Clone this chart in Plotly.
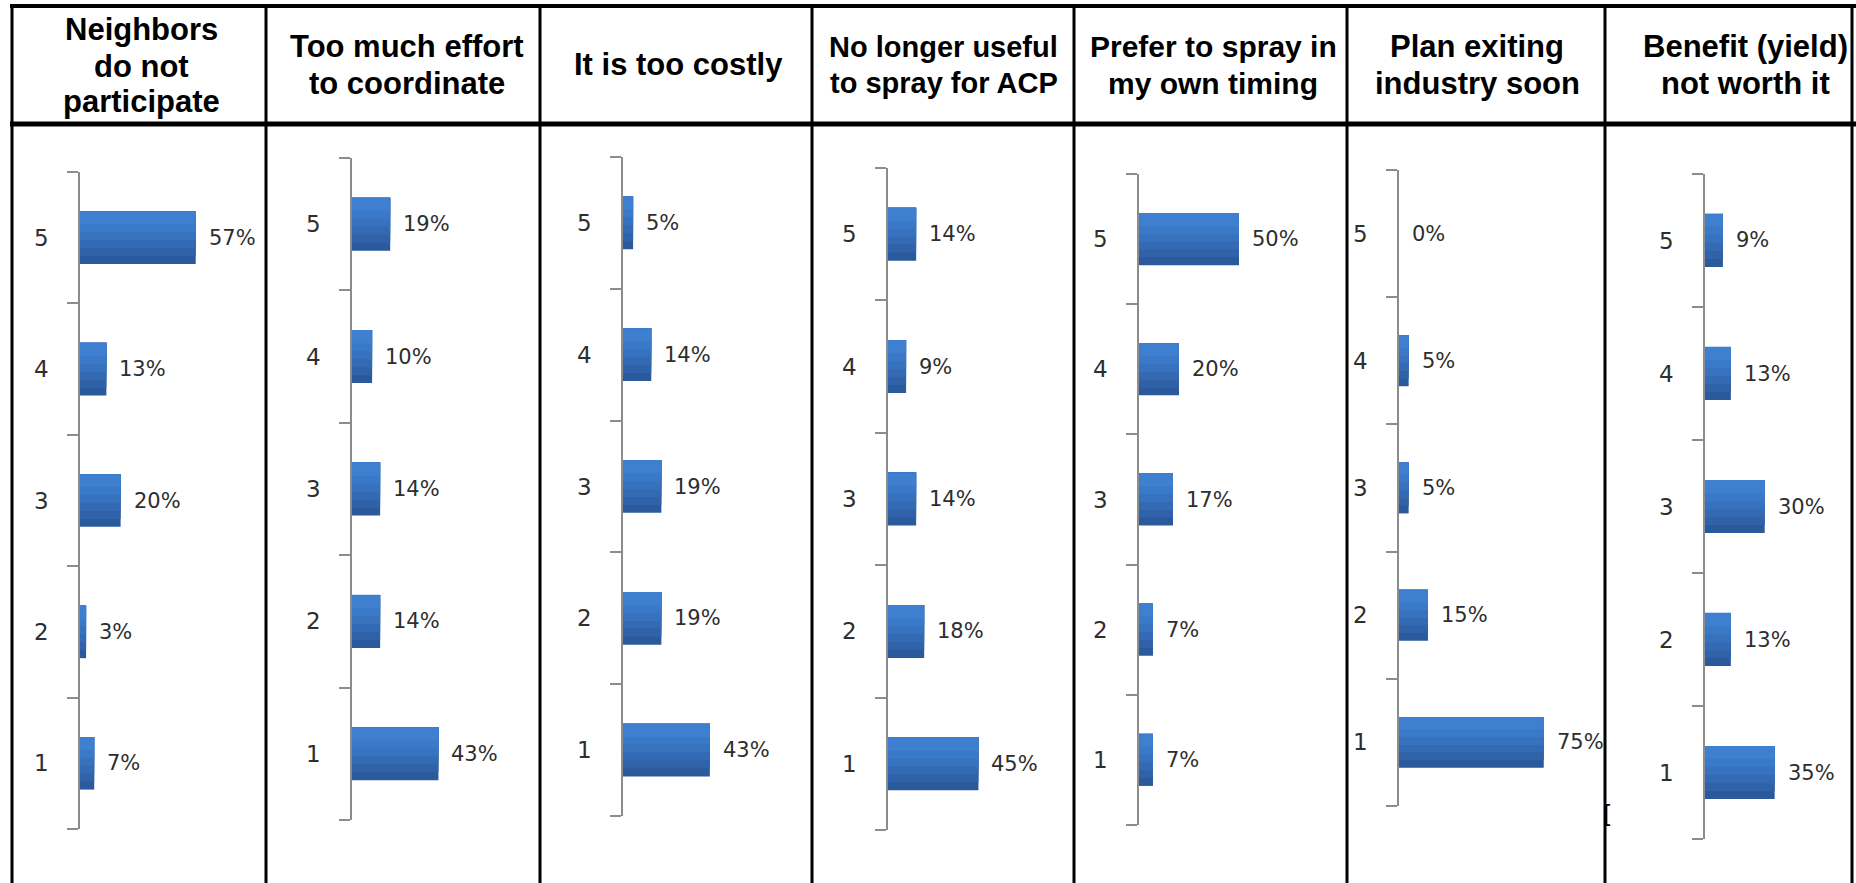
import plotly.graph_objects as go

W, H = 1856, 883

headers = [
    ["Neighbors", "do not", "participate"],
    ["Too much effort", "to coordinate"],
    ["It is too costly"],
    ["No longer useful", "to spray for ACP"],
    ["Prefer to spray in", "my own timing"],
    ["Plan exiting", "industry soon"],
    ["Benefit (yield)", "not worth it"],
]
ratings = ["1", "2", "3", "4", "5"]
# values for ratings 1..5
neighbors = [7, 3, 20, 13, 57]
effort = [43, 14, 14, 10, 19]
costly = [43, 19, 19, 14, 5]
no_longer_useful = [45, 18, 14, 9, 14]
own_timing = [7, 7, 17, 20, 50]
exiting = [75, 15, 5, 5, 0]
benefit = [35, 13, 30, 13, 9]
series = [neighbors, effort, costly, no_longer_useful, own_timing, exiting, benefit]

# layout geometry (pixels)
axis_x = [80, 352, 623, 888, 1139, 1399, 1705]
plot_top = [172, 158, 157, 168, 174, 170, 174]
plot_bot = [829, 820, 816, 830, 825, 806, 839]
px_per_pct = [2.03, 2.01, 2.02, 2.01, 2.0, 1.93, 1.99]
col_lines = [12, 266, 540, 812, 1074, 1347, 1605, 1852]
head_cx = [141, 407, 678, 944, 1213, 1477, 1745]
head_sizes = [31, 31, 31, 29, 30, 31, 31]

# vertical gradient of the bars: darkest (bottom) drawn first, full thickness
band_colors = ["#2B5A9C", "#2F62A8", "#336AB3", "#3672BE", "#3A79C7", "#3E80CF"]
band_bottoms = [-0.2, -0.14, -0.08, -0.02, 0.04, 0.10]
bar_top = 0.2

fig = go.Figure()
annotations = []
layout_axes = {}
for i, vals in enumerate(series):
    k = i + 1
    xa = "x" if k == 1 else f"x{k}"
    ya = "y" if k == 1 else f"y{k}"
    for col, off in zip(band_colors, band_bottoms):
        fig.add_trace(go.Bar(
            x=vals, y=ratings, orientation="h", xaxis=xa, yaxis=ya,
            width=bar_top - off, offset=off, marker=dict(color=col, line=dict(width=0)),
            showlegend=False, hoverinfo="skip"))
    wpx = min(165, W - 1 - axis_x[i])
    layout_axes[f"xaxis{'' if k == 1 else k}"] = dict(
        domain=[axis_x[i] / W, (axis_x[i] + wpx) / W],
        range=[0, wpx / px_per_pct[i]], visible=False, anchor=ya, fixedrange=True)
    layout_axes[f"yaxis{'' if k == 1 else k}"] = dict(
        domain=[1 - plot_bot[i] / H, 1 - plot_top[i] / H],
        anchor=xa, type="category", categoryorder="array", categoryarray=ratings,
        range=[-0.5, 4.5], showline=True, linecolor="#8C8C8C", linewidth=1.5,
        ticks="outside", tickson="boundaries", ticklen=11, tickcolor="#8C8C8C",
        tickwidth=1.5, showgrid=False, zeroline=False, ticklabelstandoff=25,
        tickfont=dict(family="DejaVu Sans", size=23, color="#2E2E2E"), fixedrange=True)
    for j, v in enumerate(vals):
        annotations.append(dict(
            x=v, y=j, xref=xa, yref=ya, text=f"{v}%", showarrow=False,
            xanchor="left", yanchor="middle", xshift=11,
            font=dict(family="DejaVu Sans", size=21, color="#2E2E2E")))

# headers
for i, lines in enumerate(headers):
    n = len(lines)
    if n == 3:
        ys = [30, 66, 102]
    elif n == 2:
        ys = [47, 83]
    else:
        ys = [65]
    for line, yy in zip(lines, ys):
        annotations.append(dict(
            x=head_cx[i] / W, y=1 - yy / H, xref="paper", yref="paper",
            text=f"<b>{line}</b>", showarrow=False, xanchor="center", yanchor="middle",
            font=dict(family="Liberation Sans, Arial", size=head_sizes[i], color="#000000")))

# small stray bracket mark on the column line, as in the source image
annotations.append(dict(x=1607 / W, y=1 - 815 / H, xref="paper", yref="paper",
                        text="[", showarrow=False, xanchor="center", yanchor="middle",
                        font=dict(family="DejaVu Sans", size=24, color="#000000")))

shapes = []
shapes.append(dict(type="line", xref="paper", yref="paper", x0=10 / W, x1=1,
                   y0=1 - 6 / H, y1=1 - 6 / H, line=dict(color="#000", width=4)))
shapes.append(dict(type="line", xref="paper", yref="paper", x0=10 / W, x1=1,
                   y0=1 - 124 / H, y1=1 - 124 / H, line=dict(color="#000", width=5)))
for cx in col_lines:
    shapes.append(dict(type="line", xref="paper", yref="paper", x0=cx / W, x1=cx / W,
                       y0=0, y1=1 - 4 / H, line=dict(color="#000", width=3)))

fig.update_layout(
    width=W, height=H, margin=dict(l=0, r=0, t=0, b=0),
    paper_bgcolor="white", plot_bgcolor="rgba(0,0,0,0)",
    barmode="overlay", showlegend=False,
    annotations=annotations, shapes=shapes, **layout_axes)

fig.write_html("out.html", config={"displayModeBar": False})
